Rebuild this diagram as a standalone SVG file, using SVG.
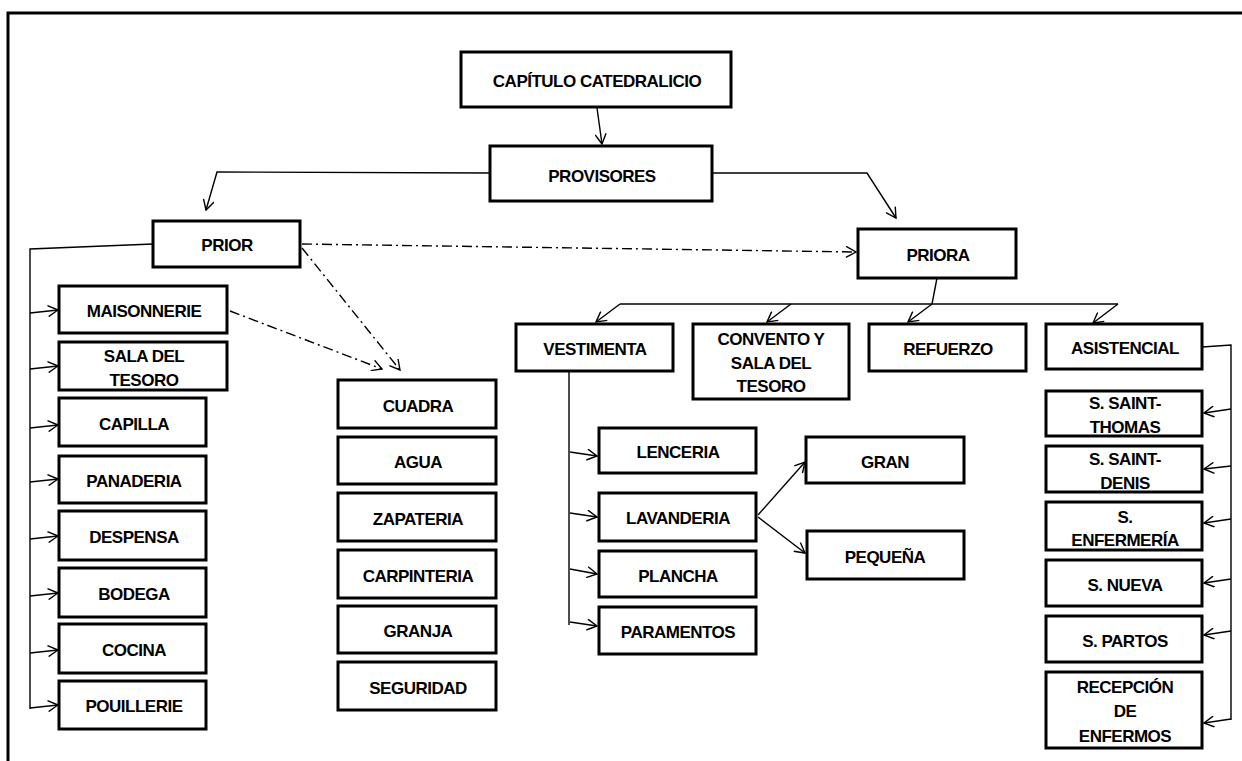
<svg xmlns="http://www.w3.org/2000/svg" width="1242" height="761" viewBox="0 0 1242 761">
  <style>
    .box { fill: #fff; stroke: #000; stroke-width: 3; }
    .lbl { font-family: "Liberation Sans", Arial, sans-serif; font-weight: bold; font-size: 17px; letter-spacing: -0.5px; text-anchor: middle; fill: #000; }
    .ln { fill: none; stroke: #000; stroke-width: 1.4; }
    .dd { stroke-dasharray: 10 4 2 4; }
    .frame { fill: none; stroke: #000; stroke-width: 3; }
  </style>
  <defs>
    <marker id="ah" viewBox="0 0 12 12" refX="11" refY="6" markerWidth="12" markerHeight="12" markerUnits="userSpaceOnUse" orient="auto">
      <path d="M1,0.5 L11,6 L1,11.5" fill="none" stroke="#000" stroke-width="1.4"/>
    </marker>
  </defs>

  <rect width="1242" height="761" fill="#fff"/>
  <!-- page frame: top and left edges only -->
  <path class="frame" d="M8,761 L8,13 L1242,13"/>

  <!-- connectors -->
  <g id="connectors">
    <path class="ln" d="M597,108 L602,144" marker-end="url(#ah)"/>
    <path class="ln" d="M490,173 L217,172 L206,210" marker-end="url(#ah)"/>
    <path class="ln" d="M712,173 L867,173 L896,218" marker-end="url(#ah)"/>

    <path class="ln dd" d="M302,244 L856,252" marker-end="url(#ah)"/>
    <path class="ln dd" d="M302,248 L400,370" marker-end="url(#ah)"/>
    <path class="ln dd" d="M230,311 L382,369" marker-end="url(#ah)"/>

    <!-- PRIOR trunk -->
    <path class="ln" d="M153,244 L30,249 L30,709"/>
    <path class="ln" d="M30,313 L58,310" marker-end="url(#ah)"/>
    <path class="ln" d="M30,369 L58,366" marker-end="url(#ah)"/>
    <path class="ln" d="M30,428 L58,425" marker-end="url(#ah)"/>
    <path class="ln" d="M30,482 L58,479" marker-end="url(#ah)"/>
    <path class="ln" d="M30,539 L58,536" marker-end="url(#ah)"/>
    <path class="ln" d="M30,596 L58,593" marker-end="url(#ah)"/>
    <path class="ln" d="M30,653 L58,650" marker-end="url(#ah)"/>
    <path class="ln" d="M30,708 L58,705" marker-end="url(#ah)"/>

    <!-- PRIORA bus -->
    <path class="ln" d="M937,278 L932,304"/>
    <path class="ln" d="M620,304 L1118,304"/>
    <path class="ln" d="M620,304 L596,322" marker-end="url(#ah)"/>
    <path class="ln" d="M791,304 L767,322" marker-end="url(#ah)"/>
    <path class="ln" d="M932,304 L908,322" marker-end="url(#ah)"/>
    <path class="ln" d="M1118,304 L1093,323" marker-end="url(#ah)"/>

    <!-- VESTIMENTA trunk -->
    <path class="ln" d="M569,371 L569,625"/>
    <path class="ln" d="M570,452 L597,456" marker-end="url(#ah)"/>
    <path class="ln" d="M570,513 L597,517" marker-end="url(#ah)"/>
    <path class="ln" d="M570,569 L597,574" marker-end="url(#ah)"/>
    <path class="ln" d="M570,622 L597,626" marker-end="url(#ah)"/>

    <path class="ln" d="M758,515 L805,462" marker-end="url(#ah)"/>
    <path class="ln" d="M758,517 L805,553" marker-end="url(#ah)"/>

    <!-- ASISTENCIAL trunk -->
    <path class="ln" d="M1202,347 L1231,345 L1231,720"/>
    <path class="ln" d="M1231,409 L1204,413" marker-end="url(#ah)"/>
    <path class="ln" d="M1231,466 L1204,469" marker-end="url(#ah)"/>
    <path class="ln" d="M1231,519 L1204,523" marker-end="url(#ah)"/>
    <path class="ln" d="M1231,579 L1204,583" marker-end="url(#ah)"/>
    <path class="ln" d="M1231,631 L1204,635" marker-end="url(#ah)"/>
    <path class="ln" d="M1231,719 L1204,723" marker-end="url(#ah)"/>
  </g>

  <!-- nodes -->
  <g id="capitulo"><rect class="box" x="461" y="52" width="270" height="55"/><text class="lbl" x="597" y="87">CAPÍTULO CATEDRALICIO</text></g>
  <g id="provisores"><rect class="box" x="490" y="146" width="222" height="55"/><text class="lbl" x="602" y="182">PROVISORES</text></g>
  <g id="prior"><rect class="box" x="153" y="221" width="147" height="46"/><text class="lbl" x="227" y="251">PRIOR</text></g>
  <g id="priora"><rect class="box" x="858" y="229" width="158" height="49"/><text class="lbl" x="938" y="261">PRIORA</text></g>

  <g id="maisonnerie"><rect class="box" x="59" y="286" width="168" height="47"/><text class="lbl" x="144" y="317">MAISONNERIE</text></g>
  <g id="sala-tesoro"><rect class="box" x="59" y="342" width="168" height="48"/><text class="lbl" x="144" y="362">SALA DEL</text><text class="lbl" x="144" y="386">TESORO</text></g>
  <g id="capilla"><rect class="box" x="59" y="398" width="147" height="48"/><text class="lbl" x="134" y="430">CAPILLA</text></g>
  <g id="panaderia"><rect class="box" x="59" y="456" width="147" height="47"/><text class="lbl" x="134" y="487">PANADERIA</text></g>
  <g id="despensa"><rect class="box" x="59" y="511" width="147" height="49"/><text class="lbl" x="134" y="543">DESPENSA</text></g>
  <g id="bodega"><rect class="box" x="59" y="568" width="147" height="49"/><text class="lbl" x="134" y="600">BODEGA</text></g>
  <g id="cocina"><rect class="box" x="59" y="624" width="147" height="49"/><text class="lbl" x="134" y="656">COCINA</text></g>
  <g id="pouillerie"><rect class="box" x="59" y="681" width="147" height="48"/><text class="lbl" x="134" y="712">POUILLERIE</text></g>

  <g id="cuadra"><rect class="box" x="338" y="380" width="158" height="48"/><text class="lbl" x="418" y="412">CUADRA</text></g>
  <g id="agua"><rect class="box" x="338" y="437" width="158" height="47"/><text class="lbl" x="418" y="468">AGUA</text></g>
  <g id="zapateria"><rect class="box" x="338" y="493" width="158" height="48"/><text class="lbl" x="418" y="525">ZAPATERIA</text></g>
  <g id="carpinteria"><rect class="box" x="338" y="550" width="158" height="48"/><text class="lbl" x="418" y="582">CARPINTERIA</text></g>
  <g id="granja"><rect class="box" x="338" y="606" width="158" height="47"/><text class="lbl" x="418" y="637">GRANJA</text></g>
  <g id="seguridad"><rect class="box" x="338" y="662" width="158" height="48"/><text class="lbl" x="418" y="694">SEGURIDAD</text></g>

  <g id="vestimenta"><rect class="box" x="516" y="324" width="157" height="47"/><text class="lbl" x="595" y="355">VESTIMENTA</text></g>
  <g id="convento"><rect class="box" x="693" y="324" width="156" height="75"/><text class="lbl" x="771" y="345">CONVENTO Y</text><text class="lbl" x="771" y="369">SALA DEL</text><text class="lbl" x="771" y="392">TESORO</text></g>
  <g id="refuerzo"><rect class="box" x="869" y="324" width="157" height="47"/><text class="lbl" x="948" y="355">REFUERZO</text></g>
  <g id="asistencial"><rect class="box" x="1046" y="324" width="156" height="45"/><text class="lbl" x="1125" y="354">ASISTENCIAL</text></g>

  <g id="saint-thomas"><rect class="box" x="1046" y="391" width="156" height="45"/><text class="lbl" x="1125" y="409">S. SAINT-</text><text class="lbl" x="1125" y="433">THOMAS</text></g>
  <g id="saint-denis"><rect class="box" x="1046" y="446" width="156" height="46"/><text class="lbl" x="1125" y="465">S. SAINT-</text><text class="lbl" x="1125" y="489">DENIS</text></g>
  <g id="enfermeria"><rect class="box" x="1046" y="502" width="156" height="48"/><text class="lbl" x="1125" y="523">S.</text><text class="lbl" x="1125" y="546">ENFERMERÍA</text></g>
  <g id="nueva"><rect class="box" x="1046" y="560" width="156" height="46"/><text class="lbl" x="1125" y="591">S. NUEVA</text></g>
  <g id="partos"><rect class="box" x="1046" y="616" width="156" height="46"/><text class="lbl" x="1125" y="647">S. PARTOS</text></g>
  <g id="recepcion"><rect class="box" x="1046" y="672" width="156" height="76"/><text class="lbl" x="1125" y="693">RECEPCIÓN</text><text class="lbl" x="1125" y="717">DE</text><text class="lbl" x="1125" y="742">ENFERMOS</text></g>

  <g id="lenceria"><rect class="box" x="599" y="428" width="157" height="45"/><text class="lbl" x="678" y="458">LENCERIA</text></g>
  <g id="lavanderia"><rect class="box" x="599" y="493" width="157" height="48"/><text class="lbl" x="678" y="524">LAVANDERIA</text></g>
  <g id="plancha"><rect class="box" x="599" y="551" width="157" height="46"/><text class="lbl" x="678" y="582">PLANCHA</text></g>
  <g id="paramentos"><rect class="box" x="599" y="607" width="157" height="47"/><text class="lbl" x="678" y="638">PARAMENTOS</text></g>
  <g id="gran"><rect class="box" x="806" y="437" width="158" height="46"/><text class="lbl" x="885" y="468">GRAN</text></g>
  <g id="pequena"><rect class="box" x="807" y="531" width="157" height="48"/><text class="lbl" x="885" y="563">PEQUEÑA</text></g>
</svg>
